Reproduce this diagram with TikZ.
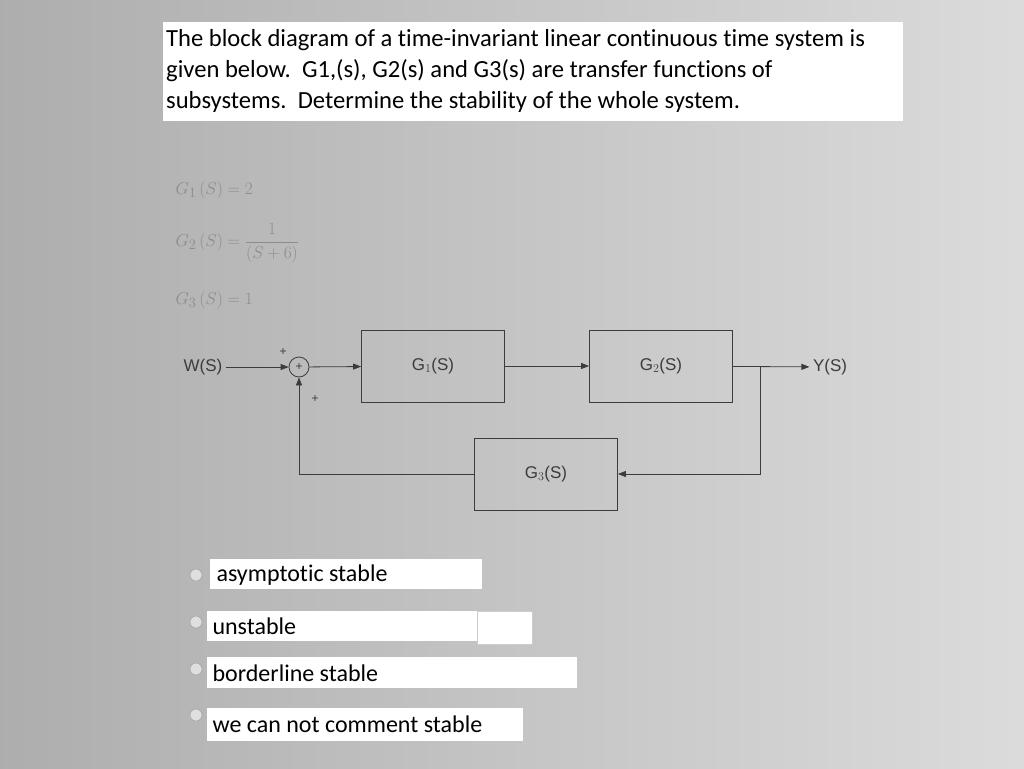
\documentclass[tikz,border=0pt]{standalone}
\usepackage{fontspec}
\setmainfont{Carlito}[Ligatures=NoCommon]
\newfontfamily\arialf{Liberation Sans}
\usetikzlibrary{arrows.meta}
\definecolor{ln}{RGB}{60,60,60}
\definecolor{fg}{RGB}{140,140,140}
\begin{document}
\begin{tikzpicture}[x=1pt,y=-1pt,
  blk/.style={draw=ln,line width=0.8pt,minimum width=143pt,minimum height=72pt,font=\arialf\fontsize{17}{17}\selectfont,text=ln},
  wire/.style={draw=ln,line width=0.8pt},
  arr/.style={wire,-{Triangle[length=8pt,width=6pt]}},
  lab/.style={font=\arialf\fontsize{17}{17}\selectfont,text=ln},
  formula/.style={font=\fontsize{19}{19}\selectfont,text=fg,anchor=west},
  opt/.style={fill=white,anchor=north west,inner sep=0pt},
  optt/.style={font=\fontsize{24}{24}\selectfont,anchor=west},
  radio/.style={draw=gray!80,fill=gray!25,circle,minimum size=12pt,inner sep=0pt}]
\useasboundingbox (0,0) rectangle (1024,768);
\shade[left color=black!32,right color=black!14] (0,0) rectangle (1024,768);
% question box
\node[fill=white,anchor=north west,minimum width=740pt,minimum height=99pt,inner sep=0pt] (q) at (163,22) {};
\node[anchor=west,align=left,font=\fontsize{24.6}{31}\selectfont,inner sep=0pt] (qt) at (166,71)
 {The block diagram of a time-invariant linear continuous time system is\\
  given below.\ \ G1,(s), G2(s) and G3(s) are transfer functions of\\
  subsystems.\ \ Determine the stability of the whole system.};
% formulas
\node[formula] (f1) at (172,190) {$G_1\,(S)=2$};
\node[formula] (f2) at (172,243) {$G_2\,(S)=\displaystyle\frac{1}{(S+6)}$};
\node[formula] (f3) at (172,300) {$G_3\,(S)=1$};
% diagram
\node[lab] (w) at (203,367) {W(S)};
\node[draw=ln,circle,line width=0.8pt,minimum size=20pt,inner sep=0pt,font=\arialf\fontsize{12}{12}\selectfont,text=ln] (sum) at (299,367) {+};
\node[lab,font=\arialf\fontsize{12}{12}\selectfont] (p1) at (283,352) {+};
\node[lab,font=\arialf\fontsize{12}{12}\selectfont] (p2) at (315,399) {+};
\node[blk] (g1) at (433,366) {G$_1$(S)};
\node[blk] (g2) at (661,366) {G$_2$(S)};
\node[blk] (g3) at (546,474) {G$_3$(S)};
\node[lab] (y) at (830,367) {Y(S)};
\coordinate (br) at (760,367);
\draw[arr] (w) -- (sum);
\draw[arr] (sum) -- (g1);
\draw[arr] (g1) -- (g2);
\draw[arr] (g2) -- (y);
\draw[arr] (br) |- (g3);
\draw[arr] (g3) -| (sum);
% options
\node[radio] (r1) at (196,575) {};
\node[radio] (r2) at (196,622) {};
\node[radio] (r3) at (196,669) {};
\node[radio] (r4) at (196,715) {};
\node[opt,minimum width=272pt,minimum height=30pt] (o1) at (210,559) {};
\node[optt] (t1) at (213,575) {asymptotic stable};
\node[opt,minimum width=270pt,minimum height=30pt] (o2) at (207,611) {};
\node[opt,draw=gray!40,minimum width=55pt,minimum height=33pt] (o2b) at (477,611) {};
\node[optt] (t2) at (209,626) {unstable};
\node[opt,minimum width=370pt,minimum height=31pt] (o3) at (207,657) {};
\node[optt] (t3) at (209,673) {borderline stable};
\node[opt,minimum width=316pt,minimum height=33pt] (o4) at (207,708) {};
\node[optt] (t4) at (209,724) {we can not comment stable};
\end{tikzpicture}
\end{document}
